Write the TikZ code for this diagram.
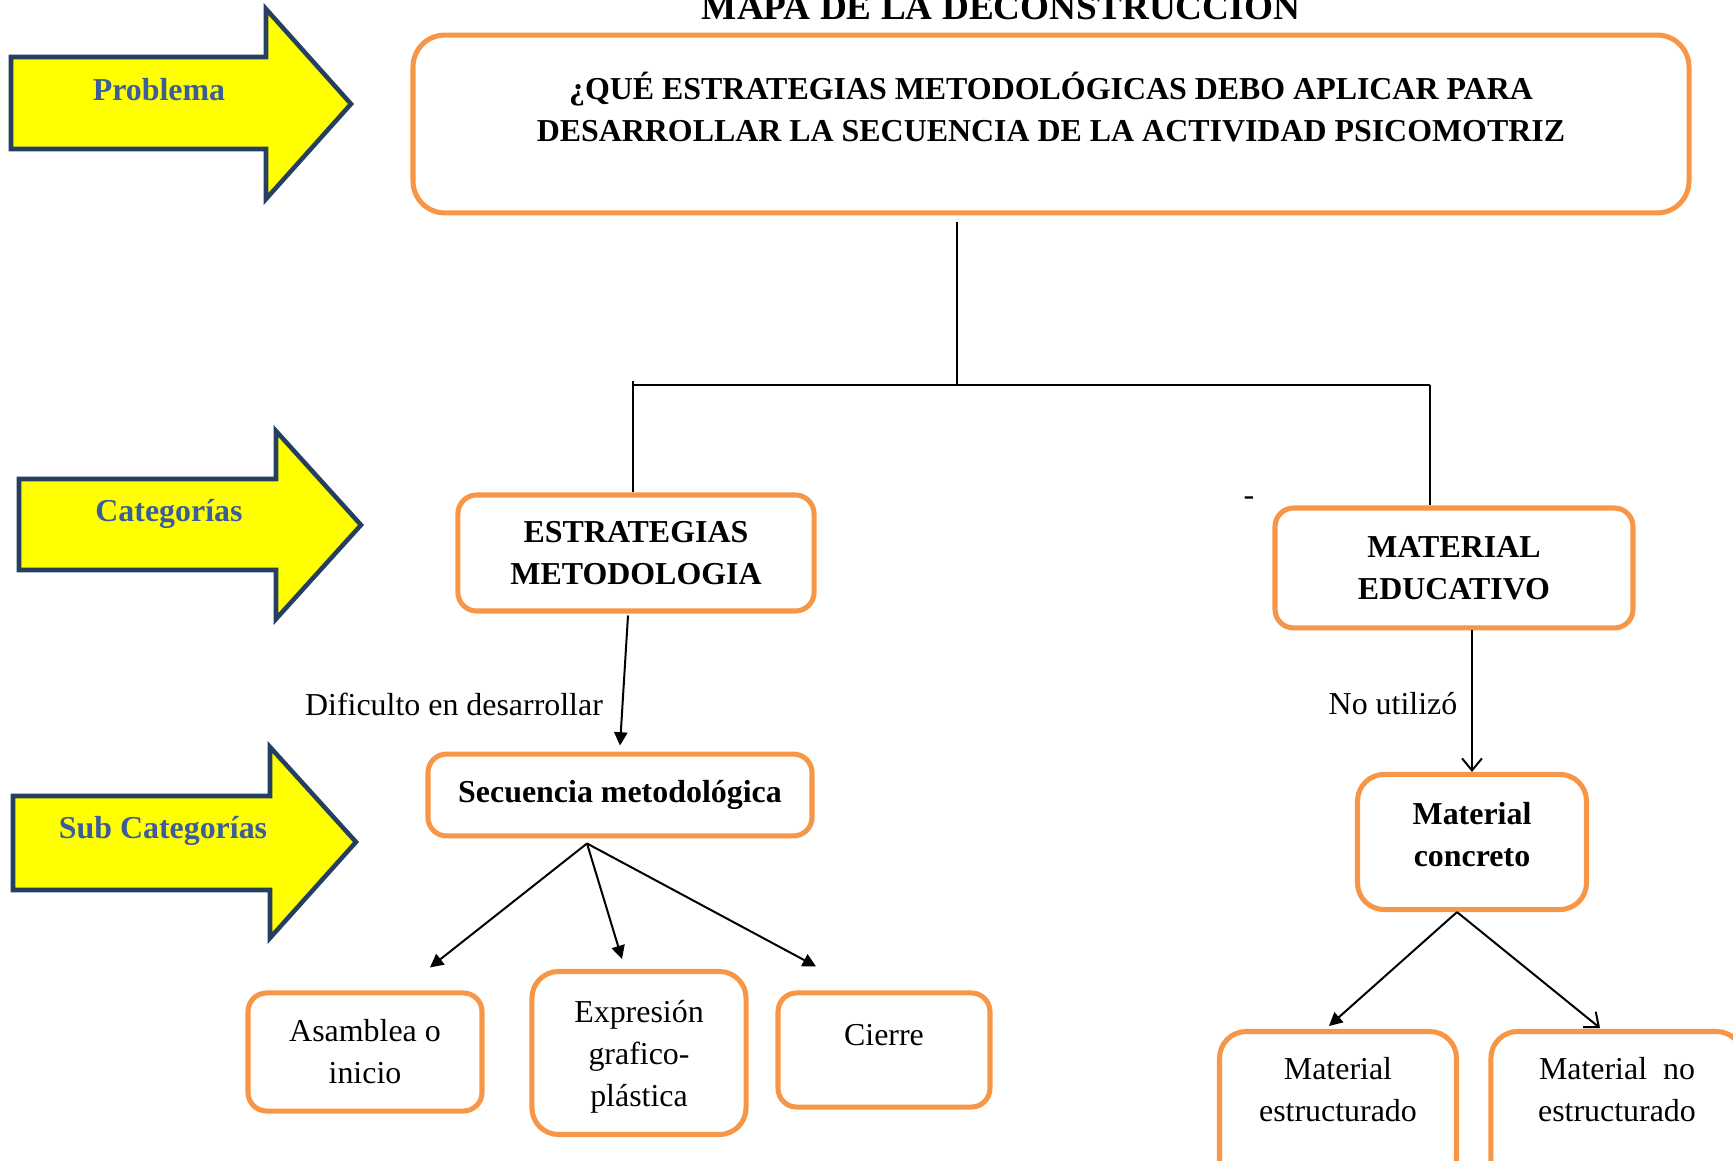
\documentclass[tikz,border=0pt]{standalone}
\usepackage{fontspec}
\setmainfont{Liberation Serif}
\usepackage{tikz}
\usetikzlibrary{%
	arrows.meta,%
	calc%
}
\definecolor{Naranja}{HTML}{F79646}
\definecolor{Amarillo}{HTML}{FFFF00}
\definecolor{Marino}{HTML}{243F60}
\definecolor{Azul}{HTML}{3B5E98}

\begin{document}
\begin{tikzpicture}[x=0.376pt,y=-0.376pt,
	texto/.style={font=\fontsize{12}{15.8}\selectfont},
	negrita/.style={font=\fontsize{12}{15.8}\selectfont\bfseries},
	caja/.style={draw=Naranja,line width=1.9pt,rounded corners=7pt,align=center,texto},
	flecha/.style={draw=Marino,line width=1.7pt,fill=Amarillo,line join=miter},
	etiqueta/.style={negrita,text=Azul},
	lleno/.style={line width=0.75pt,-{Triangle[length=5pt,width=5pt]}},
	abierto/.style={line width=0.75pt,-{Straight Barb[length=4.5pt,width=7.5pt]}}]
\clip (0,0) rectangle (1733,1161);
% Title
\node (titulo) [anchor=base,font=\fontsize{14}{16}\selectfont\bfseries] at (1001,20) {MAPA DE LA DECONSTRUCCIÓN};
% Yellow arrows
\draw [flecha] (11,57) -- (266,57) -- (266,9) -- (351,104) -- (266,199) -- (266,149) -- (11,149) -- cycle;
\node (lblproblema) [etiqueta] at (159,90) {Problema};
\draw [flecha] (19,479) -- (276,479) -- (276,431) -- (361,525) -- (276,619) -- (276,570) -- (19,570) -- cycle;
\node (lblcategorias) [etiqueta] at (169,514) {Categorías};
\draw [flecha] (13,796) -- (270,796) -- (270,747) -- (356,842) -- (270,938) -- (270,890) -- (13,890) -- cycle;
\node (lblsub) [etiqueta] at (163,831) {Sub Categorías};
% Boxes
\node (pregunta) [caja,negrita,rounded corners=12pt,minimum width=479.8pt,minimum height=66.9pt] at (1051,124) {¿QUÉ ESTRATEGIAS METODOLÓGICAS DEBO APLICAR PARA\\DESARROLLAR LA SECUENCIA DE LA ACTIVIDAD PSICOMOTRIZ\\[-3.2pt]\mbox{}};
\node (estrategias) [caja,negrita,minimum width=133.9pt,minimum height=43.6pt] at (636,553) {ESTRATEGIAS\\METODOLOGIA};
\node (material) [caja,negrita,minimum width=134.6pt,minimum height=45.1pt] at (1454,568) {MATERIAL\\EDUCATIVO};
\node (secuencia) [caja,negrita,minimum width=144.4pt,minimum height=30.8pt] at (620,795) {Secuencia metodológica};
\node (asamblea) [caja,minimum width=88pt,minimum height=44.4pt] at (365,1052) {Asamblea o\\inicio};
\node (expresion) [caja,rounded corners=10pt,minimum width=80.5pt,minimum height=61.3pt] at (639,1053) {\mbox{}\\[-4.5pt]Expresión\\grafico-\\plástica};
\node (cierre) [caja,minimum width=79.7pt,minimum height=42.9pt] at (884,1050) {Cierre\\[-4.6pt]\mbox{}};
\node (concreto) [caja,negrita,rounded corners=10pt,minimum width=86.1pt,minimum height=50.8pt] at (1472,842) {Material\\concreto\\[-9.8pt]\mbox{}};
\node (estructurado) [caja,anchor=north,rounded corners=10pt,inner ysep=9.8pt,minimum width=89.1pt] at (1338,1029) {Material\\estructurado\\\mbox{}\\\mbox{}};
\node (noestructurado) [caja,anchor=north,rounded corners=10pt,inner ysep=9.8pt,minimum width=94.8pt] at (1617,1029) {Material\ \ no\\estructurado\\\mbox{}\\\mbox{}};
% Labels
\node (dificulto) [texto] at (454,704) {Dificulto en desarrollar};
\node (noutilizo) [texto] at (1393,704) {No utilizó};
\node (guion) [texto] at (1249,501) {-};
% Tree
\coordinate (tronco) at (957,222);
\coordinate (rama) at (957,385);
\coordinate (ramaizq) at (633,385);
\coordinate (ramader) at (1430,385);
\draw [line width=0.75pt] (tronco) -- (rama);
\draw [line width=0.75pt] (ramaizq) -- (ramader);
\draw [line width=0.75pt] ($(ramaizq)+(0,-4)$) -- (ramaizq |- estrategias.north);
\draw [line width=0.75pt] (ramader) -- (ramader |- material.north);
% Arrows
\draw [lleno] ($(estrategias.south)+(-8,2)$) -- ($(secuencia.north)+(0,-6)$);
\coordinate (abanico) at ($(secuencia.south)+(-33,5)$);
\draw [lleno] (abanico) -- ($(asamblea.north)+(65,-23)$);
\draw [lleno] (abanico) -- ($(expresion.north)+(-17,-10)$);
\draw [lleno] (abanico) -- ($(cierre.north)+(-68,-24)$);
\draw [abierto] (concreto.north |- material.south) -- (concreto.north);
\coordinate (horquilla) at ($(concreto.south)+(-15,0)$);
\draw [lleno] (horquilla) -- ($(estructurado.north)+(-9,-3)$);
\draw [abierto] (horquilla) -- ($(noestructurado.north)+(-17,-1)$);
\end{tikzpicture}
\end{document}
